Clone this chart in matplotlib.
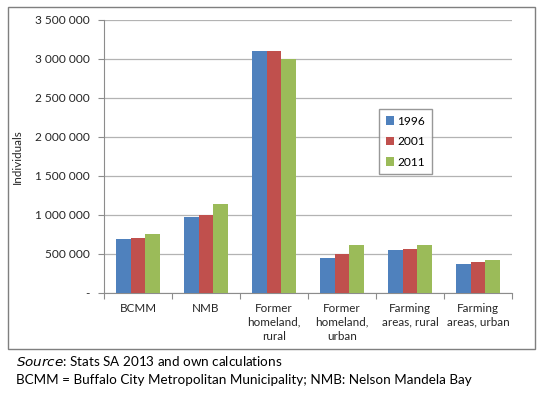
import numpy as np
import matplotlib.pyplot as plt
import matplotlib.patches as patches
from matplotlib.ticker import FuncFormatter

plt.rcParams['font.family'] = ['Lato', 'DejaVu Sans']

# data
categories = ["BCMM", "NMB", "Former\nhomeland,\nrural", "Former\nhomeland,\nurban",
              "Farming\nareas, rural", "Farming\nareas, urban"]
years = ["1996", "2001", "2011"]
vals_1996 = [690000, 972000, 3108000, 452000, 554000, 376000]
vals_2001 = [703000, 1006000, 3099000, 505000, 569000, 398000]
vals_2011 = [754000, 1147000, 3002000, 609000, 617000, 425000]
series = [vals_1996, vals_2001, vals_2011]
colors = ["#4F81BD", "#C0504D", "#9BBB59"]

fig = plt.figure(figsize=(5.45, 3.93), dpi=100)

# outer chart frame
fig.patches.append(patches.Rectangle((8/545, 1-349/393), 527/545, 342/393,
                                     transform=fig.transFigure, fill=False,
                                     edgecolor="#7f7f7f", linewidth=1.0))

ax = fig.add_axes([104/545, 1-293/393, 408/545, 273/393])
x = np.arange(len(categories))
w = 0.22
for i, (vals, c, yr) in enumerate(zip(series, colors, years)):
    ax.bar(x + (i-1)*w, vals, width=w, color=c, label=yr, zorder=3)

ax.set_xlim(-0.5, len(categories)-0.5)
ax.set_ylim(0, 3500000)
ax.set_yticks(np.arange(0, 3500001, 500000))
ax.yaxis.set_major_formatter(FuncFormatter(
    lambda v, p: "-" if v == 0 else f"{int(v):,}".replace(",", " ")))
ax.grid(axis="y", color="#b3b3b3", linewidth=0.9, zorder=0)

ax.set_xticks(np.arange(-0.5, len(categories), 1.0))
ax.set_xticklabels([])
ax.set_xticks(x, minor=True)
ax.set_xticklabels(categories, minor=True, fontsize=8.4, color="#262626", linespacing=1.35)
ax.tick_params(axis="x", which="minor", length=0, pad=7)
ax.tick_params(axis="x", which="major", length=4, color="#8c8c8c")
ax.tick_params(axis="y", length=4, color="#8c8c8c", labelsize=8.6, labelcolor="#262626", pad=6)

for s in ["top", "right"]:
    ax.spines[s].set_visible(False)
ax.spines["left"].set_color("#8c8c8c")
ax.spines["bottom"].set_color("#8c8c8c")

ax.set_ylabel("Individuals", fontsize=8.4, color="#262626", labelpad=9)

leg = ax.legend(loc="upper left", bbox_to_anchor=((379-104)/408, (293-109)/273),
                fontsize=8.6, frameon=True, fancybox=False, borderpad=0.55,
                labelspacing=0.8, handlelength=0.7, handleheight=0.7, handletextpad=0.3,
                borderaxespad=0)
leg.get_frame().set_edgecolor("#7f7f7f")
leg.get_frame().set_linewidth(1.0)

fig.text(16/545, 1-361/393, r"$\it{Source}$: Stats SA 2013 and own calculations", fontsize=9.7,
         va="center", color="black")
fig.text(16/545, 1-380/393, "BCMM = Buffalo City Metropolitan Municipality; NMB: Nelson Mandela Bay",
         fontsize=9.7, va="center", color="black")

fig.savefig("out.png", dpi=100)
